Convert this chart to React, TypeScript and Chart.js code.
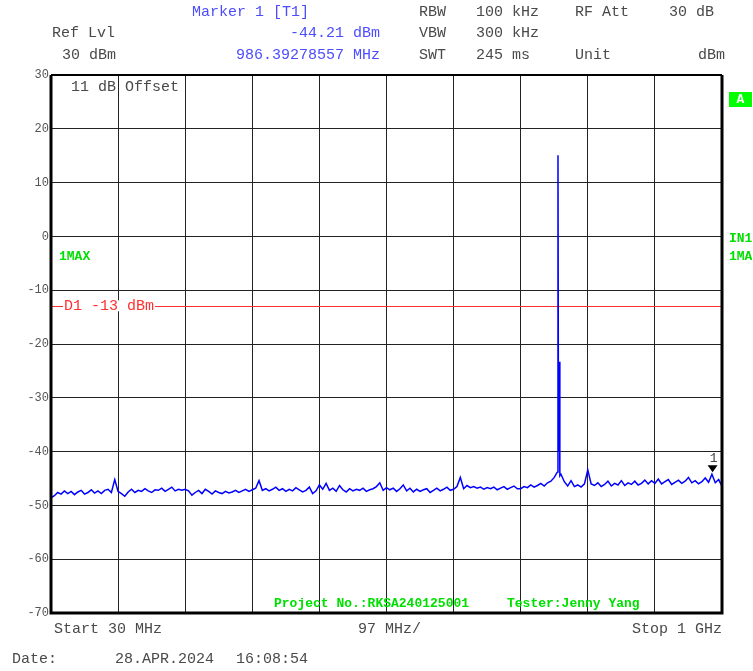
import React, { useEffect, useRef } from "react";
import { Chart, registerables } from "chart.js";

Chart.register(...registerables);

// ---- data ----
const freqStartMHz = 30;
const freqStopMHz = 1000;
const sweepStepMHz = 4.85;
const gridFreqs = [30, 127, 224, 321, 418, 515, 612, 709, 806, 903, 1000];
const yTicks = [30, 20, 10, 0, -10, -20, -30, -40, -50, -60, -70];

// trace noise floor (dBm), one value per sweep point
const noiseLevels = [
  -48.6, -48.2, -47.6, -47.9, -47.3, -47.8, -47.4, -48.0, -47.5, -47.2, -47.9, -47.6, -47.1, -47.7, -47.3, -47.8, -47.2, -47.0, -47.6, -45.2,
  -47.4, -47.8, -48.3, -47.5, -47.0, -47.6, -47.2, -47.4, -46.9, -47.3, -47.6, -47.1, -47.2, -46.8, -47.4, -47.0, -46.6, -47.3, -47.0, -47.2,
  -47.0, -47.3, -48.1, -47.6, -47.2, -47.8, -47.0, -47.4, -47.9, -47.3, -47.6, -47.8, -47.4, -47.7, -47.5, -47.2, -47.6, -47.3, -47.0, -47.4,
  -47.1, -46.8, -45.4, -47.2, -46.9, -47.3, -47.0, -46.6, -47.2, -46.9, -47.4, -47.0, -47.3, -46.7, -47.1, -47.5, -47.2, -46.6, -47.8, -47.3,
  -46.2, -47.0, -45.9, -47.2, -46.8, -47.4, -46.3, -47.1, -47.5, -46.9, -47.3, -47.0, -47.2, -46.8, -47.4, -47.1, -46.9, -46.5, -45.8, -47.2,
  -46.7, -47.1, -46.8, -47.4, -46.9, -46.2, -47.3, -46.8, -47.5, -47.0, -47.4, -47.1, -46.9, -47.6, -47.2, -46.8, -47.3, -47.0, -46.6, -47.2,
  -47.0, -46.5, -44.8, -46.9, -46.3, -46.7, -46.5, -46.8, -46.6, -47.0, -46.7, -46.9, -46.6, -47.1, -46.8, -46.5, -47.0, -46.7, -46.4, -46.9,
  -46.9, -46.5, -46.7, -46.2, -46.6, -46.3, -45.9, -46.4, -45.8, -45.5, -44.8, -43.8, -44.2, -45.6, -46.4, -45.4, -46.5, -46.2, -46.6, -46.0,
  -43.4, -46.0, -46.3, -45.8, -46.5, -46.1, -45.5, -46.4, -45.9, -46.2, -45.4, -46.3, -45.8, -46.1, -45.5, -46.2, -45.9, -45.3, -46.0, -45.4,
  -45.9, -45.1, -46.0, -45.6, -45.2, -46.1, -45.7, -45.3, -45.9, -45.5, -44.8, -45.8, -45.4, -46.0, -45.6, -44.9, -45.7, -44.21, -45.8, -45.2, -46.4,
];

// carrier spike points (MHz, dBm)
const spikeFreqs = [761.0, 762.9, 763.6, 764.8, 765.6];
const spikeLevels = [-44.0, 15.1, -40.0, -23.3, -44.5];

const markerFreq = 986.39278557;
const markerLevel = -44.21;
const displayLine = -13;

const MONO = '"Liberation Mono", "Courier New", monospace';

export default function App() {
  const canvasRef = useRef<HTMLCanvasElement | null>(null);

  useEffect(() => {
    document.body.style.margin = "0";
    const canvas = canvasRef.current;
    if (!canvas) return;

    const points: { x: number; y: number }[] = noiseLevels.map((v, i) => ({
      x: freqStartMHz + i * sweepStepMHz,
      y: v,
    }));
    spikeFreqs.forEach((f, i) => points.push({ x: f, y: spikeLevels[i] }));
    points.sort((a, b) => a.x - b.x);

    const overlay = {
      id: "overlay",
      beforeDatasetsDraw(chart: any) {
        const ctx = chart.ctx;
        const a = chart.chartArea;
        const ys = chart.scales.y;
        // display line D1
        const yl = ys.getPixelForValue(displayLine);
        ctx.save();
        ctx.strokeStyle = "#ff3030";
        ctx.lineWidth = 1;
        ctx.beginPath();
        ctx.moveTo(a.left, Math.round(yl) + 0.5);
        ctx.lineTo(a.right, Math.round(yl) + 0.5);
        ctx.stroke();
        ctx.font = `15px ${MONO}`;
        ctx.textBaseline = "middle";
        ctx.textAlign = "left";
        const label = "D1 -13 dBm";
        const w = ctx.measureText(label).width;
        ctx.fillStyle = "#ffffff";
        ctx.fillRect(a.left + 12, yl - 6, w + 2, 11);
        ctx.fillStyle = "#ff3030";
        ctx.fillText(label, a.left + 13, yl);
        ctx.restore();
      },
      afterDraw(chart: any) {
        const ctx = chart.ctx;
        const a = chart.chartArea;
        const xs = chart.scales.x;
        const ys = chart.scales.y;
        ctx.save();
        // frame
        ctx.strokeStyle = "#000";
        ctx.lineWidth = 3;
        ctx.beginPath();
        ctx.moveTo(a.left, a.top);
        ctx.lineTo(a.left, a.bottom);
        ctx.lineTo(a.right, a.bottom);
        ctx.lineTo(a.right, a.top);
        ctx.stroke();
        ctx.lineWidth = 2;
        ctx.beginPath();
        ctx.moveTo(a.left, a.top);
        ctx.lineTo(a.right, a.top);
        ctx.stroke();

        // marker
        const mx = xs.getPixelForValue(markerFreq);
        const my = ys.getPixelForValue(markerLevel);
        ctx.fillStyle = "#000";
        ctx.beginPath();
        ctx.moveTo(mx, my - 2);
        ctx.lineTo(mx - 5, my - 9);
        ctx.lineTo(mx + 5, my - 9);
        ctx.closePath();
        ctx.fill();
        ctx.font = `13px ${MONO}`;
        ctx.fillStyle = "#444";
        ctx.textAlign = "center";
        ctx.textBaseline = "middle";
        ctx.fillText("1", mx + 1, my - 16);

        // header texts
        const grey = "#4a4a4a";
        const blue = "#4d4dff";
        ctx.font = `15px ${MONO}`;
        ctx.textBaseline = "middle";
        const t = (s: string, x: number, y: number, c: string, align: CanvasTextAlign = "left") => {
          ctx.fillStyle = c;
          ctx.textAlign = align;
          ctx.fillText(s, x, y);
        };
        t("Marker 1 [T1]", 192, 12, blue);
        t("RBW", 419, 12, grey);
        t("100 kHz", 476, 12, grey);
        t("RF Att", 575, 12, grey);
        t("30 dB", 669, 12, grey);
        t("Ref Lvl", 52, 33, grey);
        t("-44.21 dBm", 380, 33, blue, "right");
        t("VBW", 419, 33, grey);
        t("300 kHz", 476, 33, grey);
        t("30 dBm", 62, 55, grey);
        t("986.39278557 MHz", 380, 55, blue, "right");
        t("SWT", 419, 55, grey);
        t("245 ms", 476, 55, grey);
        t("Unit", 575, 55, grey);
        t("dBm", 725, 55, grey, "right");

        t("11 dB Offset", 71, 87, grey);

        t("Start 30 MHz", 54, 629, grey);
        t("97 MHz/", 358, 629, grey);
        t("Stop 1 GHz", 722, 629, grey, "right");
        t("Date:", 12, 659, grey);
        t("28.APR.2024", 115, 659, grey);
        t("16:08:54", 236, 659, grey);

        // green annotations
        const green = "#00e000";
        ctx.font = `bold 13px ${MONO}`;
        t("1MAX", 59, 257, green);
        t("IN1", 729, 239, green);
        t("1MA", 729, 257, green);
        t("Project No.:RKSA240125001", 274, 604, green);
        t("Tester:Jenny Yang", 507, 604, green);

        ctx.fillStyle = "#00ff00";
        ctx.fillRect(729, 92, 23, 15);
        ctx.fillStyle = "#ffffff";
        ctx.textAlign = "center";
        ctx.fillText("A", 740.5, 100);
        ctx.restore();
      },
    };

    const chart = new Chart(canvas, {
      type: "line",
      data: {
        datasets: [
          {
            data: points,
            borderColor: "#0000ff",
            borderWidth: 1.5,
            pointRadius: 0,
            tension: 0,
            fill: false,
          },
        ],
      },
      options: {
        responsive: false,
        animation: false,
        events: [],
        layout: { padding: { left: 0, top: 75, right: 31, bottom: 58 } },
        plugins: {
          legend: { display: false },
          tooltip: { enabled: false },
        },
        scales: {
          x: {
            type: "linear",
            min: freqStartMHz,
            max: freqStopMHz,
            afterBuildTicks: (scale: any) => {
              scale.ticks = gridFreqs.map((v) => ({ value: v }));
            },
            afterFit: (scale: any) => {
              scale.height = 0;
            },
            ticks: { display: false },
            grid: { color: "#222", lineWidth: 1, drawTicks: false },
            border: { display: false },
          },
          y: {
            type: "linear",
            min: -70,
            max: 30,
            afterBuildTicks: (scale: any) => {
              scale.ticks = yTicks.map((v) => ({ value: v }));
            },
            afterFit: (scale: any) => {
              scale.width = 51;
            },
            ticks: {
              color: "#555",
              font: { family: MONO, size: 12 },
              padding: 2,
            },
            grid: { color: "#222", lineWidth: 1, drawTicks: false },
            border: { display: false },
          },
        },
      },
      plugins: [overlay],
    });

    return () => chart.destroy();
  }, []);

  return (
    <div style={{ width: 753, height: 671, background: "#fff" }}>
      <canvas ref={canvasRef} width={753} height={671} style={{ display: "block" }} />
    </div>
  );
}
